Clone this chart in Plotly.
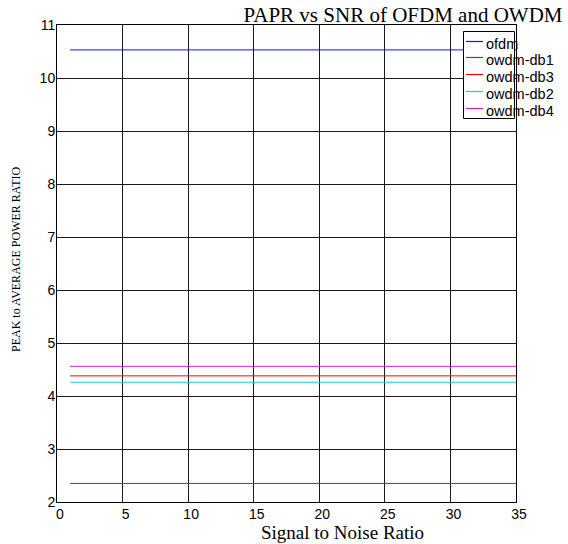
import plotly.graph_objects as go

# Data
snr = [1, 35]
series_names = ["ofdm", "owdm-db1", "owdm-db3", "owdm-db2", "owdm-db4"]
ofdm = [10.53, 10.53]
owdm_db1 = [2.35, 2.35]
owdm_db3 = [4.38, 4.38]
owdm_db2 = [4.26, 4.26]
owdm_db4 = [4.56, 4.56]
series_values = [ofdm, owdm_db1, owdm_db3, owdm_db2, owdm_db4]
colors = ["#1010ff", "#008000", "#ff0000", "#10d0d0", "#d020d0"]

W, H = 568, 544
L, R, T, B = 57, 52, 25, 42
pw, ph = W - L - R, H - T - B

def px_x(p):
    return (p - L) / pw

def px_y(p):
    return (H - B - p) / ph

fig = go.Figure()
for name, vals, col in zip(series_names, series_values, colors):
    fig.add_trace(go.Scatter(x=snr, y=vals, mode="lines", name=name,
                             line=dict(color=col, width=1), showlegend=False))

axis_common = dict(showgrid=True, gridcolor="#1a1a1a", gridwidth=1,
                   showline=True, mirror=True, linecolor="black", linewidth=1,
                   zeroline=False, ticks="",
                   tickfont=dict(family="Liberation Sans, Arial", size=14, color="black"))

# Legend box (MATLAB-style) drawn in paper coordinates
shapes = [dict(type="rect", xref="paper", yref="paper",
               x0=px_x(463.5), x1=px_x(514.5), y0=px_y(118.5), y1=px_y(31.5),
               fillcolor="white", line=dict(color="black", width=1), layer="above")]
annotations = [
    dict(text="Signal to Noise Ratio", xref="paper", yref="paper",
         x=px_x(342), y=px_y(544), xanchor="center", yanchor="bottom",
         showarrow=False, borderpad=0,
         font=dict(family="Liberation Serif, Times New Roman", size=19, color="black")),
    dict(text="PEAK to AVERAGE POWER RATIO", xref="paper", yref="paper",
         x=px_x(16), y=px_y(260), xanchor="center", yanchor="middle",
         textangle=-90, showarrow=False,
         font=dict(family="Liberation Serif, Times New Roman", size=12, color="black")),
]
for i, (name, col) in enumerate(zip(series_names, colors)):
    ly = round(40.7 + 16.7 * i) + 0.5
    shapes.append(dict(type="line", xref="paper", yref="paper",
                       x0=px_x(466), x1=px_x(483), y0=px_y(ly), y1=px_y(ly),
                       line=dict(color=col, width=1.2), layer="above"))
    annotations.append(dict(text=name, xref="paper", yref="paper",
                            x=px_x(485), y=px_y(ly + 2.5), xanchor="left", yanchor="middle",
                            showarrow=False, borderpad=0,
                            font=dict(family="Liberation Sans, Arial", size=14.5, color="black")))

fig.update_layout(
    width=W, height=H, autosize=False,
    margin=dict(l=L, r=R, t=T, b=B, pad=0),
    paper_bgcolor="white", plot_bgcolor="white",
    title=dict(text="PAPR vs SNR of OFDM and OWDM",
               font=dict(family="Liberation Serif, Times New Roman", size=21, color="black"),
               x=403 / W, xref="container", xanchor="center",
               y=1 - 15 / H, yref="container", yanchor="middle"),
    xaxis=dict(range=[0, 35], dtick=5, tick0=0, ticklabelshift=3, ticklabelstandoff=-1,
               **axis_common),
    yaxis=dict(range=[2, 11], dtick=1, tick0=2, ticklabelstandoff=-2, **axis_common),
    showlegend=False,
    shapes=shapes,
    annotations=annotations,
)

fig.write_html("out.html", config={"displayModeBar": False},
               post_script="document.body.style.margin='0';")
